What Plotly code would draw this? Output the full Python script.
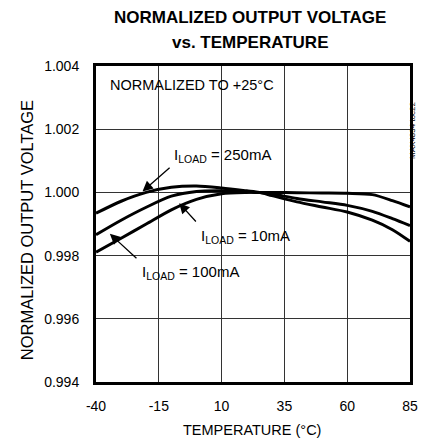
import plotly.graph_objects as go

# Temperature (°C)
temp = [-40, -30, -20, -10, 0, 10, 20, 25, 30, 40, 50, 60, 70, 78, 85]

# Normalized output voltage per load current
v_250mA = [0.99934, 0.99972, 1.00000, 1.00016, 1.00020, 1.00014, 1.00005, 1.00000,
           0.99990, 0.99970, 0.99954, 0.99938, 0.99912, 0.99882, 0.99845]
v_100mA = [0.99866, 0.99912, 0.99953, 0.99988, 1.00003, 1.00005, 1.00002, 1.00000,
           0.99995, 0.99981, 0.99970, 0.99959, 0.99940, 0.99917, 0.99895]
v_10mA = [0.99811, 0.99855, 0.99900, 0.99945, 0.99978, 0.99996, 1.00000, 1.00000,
          1.00000, 0.99999, 0.99998, 0.99997, 0.99993, 0.99974, 0.99954]

x_ticks = [-40, -15, 10, 35, 60, 85]
y_ticks = [0.994, 0.996, 0.998, 1.000, 1.002, 1.004]

FONT = "Liberation Sans, Arial, sans-serif"

fig = go.Figure()
for v in (v_250mA, v_100mA, v_10mA):
    fig.add_trace(go.Scatter(x=temp, y=v, mode="lines",
                             line=dict(color="black", width=3, shape="spline", smoothing=0.8),
                             showlegend=False, hoverinfo="skip"))

ann = []
# titles
ann.append(dict(x=0.492, y=1.152, xref="paper", yref="paper", text="<b>NORMALIZED OUTPUT VOLTAGE</b>",
                showarrow=False, yanchor="middle", font=dict(size=17)))
ann.append(dict(x=0.492, y=1.073, xref="paper", yref="paper", text="<b>vs. TEMPERATURE</b>",
                showarrow=False, yanchor="middle", font=dict(size=17)))
# text labels
ann.append(dict(x=-35.3, y=1.00339, xref="x", yref="y", text="NORMALIZED TO +25°C",
                showarrow=False, xanchor="left", font=dict(size=14.5)))
ann.append(dict(x=10.5, y=1.00117, xref="x", yref="y", text="I<sub>LOAD</sub> = 250mA",
                showarrow=False, font=dict(size=15)))
ann.append(dict(x=19.5, y=0.99861, xref="x", yref="y", text="I<sub>LOAD</sub> = 10mA",
                showarrow=False, font=dict(size=15)))
ann.append(dict(x=-2.5, y=0.99747, xref="x", yref="y", text="I<sub>LOAD</sub> = 100mA",
                showarrow=False, font=dict(size=15)))
# arrows
for (hx, hy, tx, ty) in [(-21.5, 1.00003, -10.1, 1.00082),
                         (-6.9, 0.99966, 0.3, 0.99903),
                         (-34.5, 0.99869, -23.3, 0.99787)]:
    ann.append(dict(x=hx, y=hy, ax=tx, ay=ty, xref="x", yref="y", axref="x", ayref="y",
                    text="", showarrow=True, arrowhead=2, arrowsize=1.6, arrowwidth=1.3,
                    arrowcolor="black"))
ann.append(dict(x=1.028, y=0.892, xref="paper", yref="paper", text="MAX4834 toc22",
                showarrow=False, textangle=-90, font=dict(size=8)))
ann.append(dict(x=0.498, y=-0.152, xref="paper", yref="paper", text="TEMPERATURE (°C)",
                showarrow=False, yanchor="middle", font=dict(size=14.5)))
ann.append(dict(x=-0.22, y=0.48, xref="paper", yref="paper", text="NORMALIZED OUTPUT VOLTAGE",
                showarrow=False, textangle=-90, xanchor="center", yanchor="middle",
                font=dict(size=16.5)))

fig.update_layout(
    width=422, height=437,
    margin=dict(l=88, r=17, t=58, b=63),
    paper_bgcolor="white", plot_bgcolor="white",
    font=dict(family=FONT, size=14, color="black"),
    annotations=ann,
)
fig.update_xaxes(range=[-40, 85], tickvals=x_ticks, ticktext=[str(t) for t in x_ticks],
                 showgrid=True, gridcolor="#333", gridwidth=1,
                 showline=True, linecolor="black", linewidth=3, mirror=True,
                 ticks="", ticklabelstandoff=9, zeroline=False, tickfont=dict(size=14))
fig.update_yaxes(range=[0.994, 1.004], tickvals=y_ticks, ticktext=[f"{t:.3f}" for t in y_ticks],
                 showgrid=True, gridcolor="#333", gridwidth=1,
                 showline=True, linecolor="black", linewidth=3, mirror=True,
                 ticks="", ticklabelstandoff=11, zeroline=False, tickfont=dict(size=14))

fig.write_html("out.html")
